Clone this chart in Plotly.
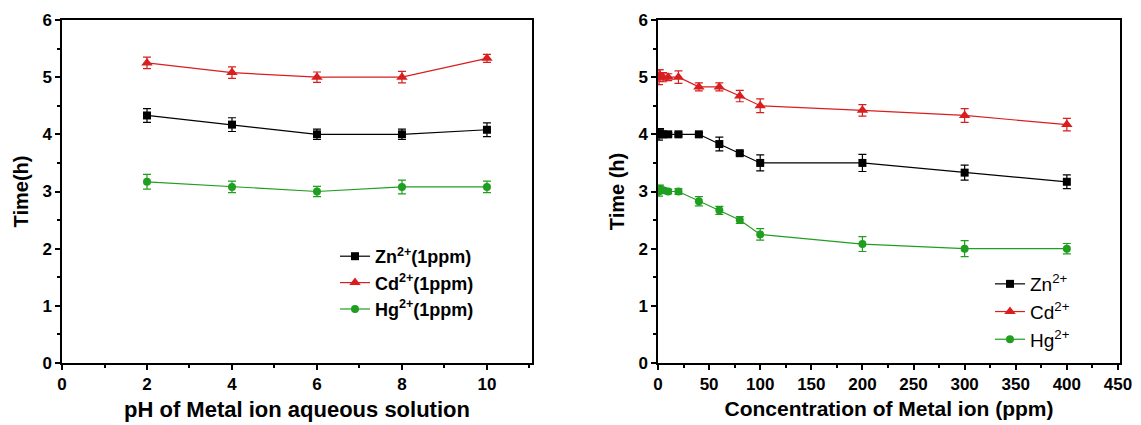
import plotly.graph_objects as go

# ---- Left panel: pH ----
ph = [2, 4, 6, 8, 10]
zn_ph = [4.33, 4.17, 4.0, 4.0, 4.08]
zn_ph_err = [0.12, 0.12, 0.09, 0.09, 0.12]
cd_ph = [5.25, 5.08, 5.0, 5.0, 5.33]
cd_ph_err = [0.1, 0.1, 0.09, 0.1, 0.07]
hg_ph = [3.17, 3.08, 3.0, 3.08, 3.08]
hg_ph_err = [0.13, 0.1, 0.09, 0.12, 0.1]

# ---- Right panel: concentration ----
conc = [1, 2, 5, 10, 20, 40, 60, 80, 100, 200, 300, 400]
zn_c = [4.0, 4.02, 4.0, 4.0, 4.0, 4.0, 3.83, 3.67, 3.5, 3.5, 3.33, 3.17]
zn_c_err = [0.1, 0.08, 0.04, 0.03, 0.03, 0.03, 0.12, 0.03, 0.14, 0.15, 0.13, 0.12]
cd_c = [5.0, 5.03, 5.0, 5.0, 5.0, 4.83, 4.83, 4.67, 4.5, 4.42, 4.33, 4.17]
cd_c_err = [0.13, 0.1, 0.08, 0.06, 0.11, 0.07, 0.07, 0.1, 0.12, 0.1, 0.12, 0.11]
hg_c = [3.0, 3.05, 3.02, 3.0, 3.0, 2.83, 2.67, 2.5, 2.25, 2.08, 2.0, 2.0]
hg_c_err = [0.08, 0.06, 0.05, 0.04, 0.05, 0.08, 0.07, 0.06, 0.1, 0.13, 0.14, 0.09]

BLACK = "#000000"
RED = "#d81e1e"
GREEN = "#1f9e1f"
FONT = "Liberation Sans"

fig = go.Figure()

def add(x, y, e, color, symbol, size, name, xa, ya, legend):
    fig.add_trace(go.Scatter(
        x=x, y=y, mode="lines+markers", name=name,
        line=dict(color=color, width=1.2),
        marker=dict(symbol=symbol, size=size, color=color),
        error_y=dict(type="data", array=e, visible=True, color=color, thickness=1.2, width=4),
        xaxis=xa, yaxis=ya, legend=legend,
    ))

add(ph, zn_ph, zn_ph_err, BLACK, "square", 8, "Zn<sup>2+</sup>(1ppm)", "x", "y", "legend")
add(ph, cd_ph, cd_ph_err, RED, "triangle-up", 10, "Cd<sup>2+</sup>(1ppm)", "x", "y", "legend")
add(ph, hg_ph, hg_ph_err, GREEN, "circle", 8, "Hg<sup>2+</sup>(1ppm)", "x", "y", "legend")

add(conc, zn_c, zn_c_err, BLACK, "square", 8, "Zn<sup>2+</sup>", "x2", "y2", "legend2")
add(conc, cd_c, cd_c_err, RED, "triangle-up", 10, "Cd<sup>2+</sup>", "x2", "y2", "legend2")
add(conc, hg_c, hg_c_err, GREEN, "circle", 8, "Hg<sup>2+</sup>", "x2", "y2", "legend2")

# page body has an 8px margin: figure is sized to fit the 1141x425 window
OFF = 8
W = 1141 - OFF
H = 425 - OFF
TOP, BOT = 20 - OFF, 363 - OFF
PH = BOT - TOP

def px(x):
    return (x - OFF) / W

def py(y):
    return 1 - (y - OFF - TOP) / PH

MINOR = dict(ticks="outside", ticklen=3, tickcolor="black", tickwidth=1.5)
axis_common = dict(
    showline=True, linecolor="black", linewidth=1.5, mirror=True,
    ticks="outside", ticklen=5, tickwidth=1.5, tickcolor="black",
    showgrid=False, zeroline=False, automargin=False,
    tickfont=dict(family=FONT, size=17, color="black", weight="bold"),
)

fig.update_layout(
    width=W, height=H,
    margin=dict(l=0, r=0, t=TOP, b=H - BOT),
    plot_bgcolor="white", paper_bgcolor="white",
    font=dict(family=FONT, color="black"),
    xaxis=dict(domain=[px(62), px(532)], range=[0, 11.06], tickvals=[0, 2, 4, 6, 8, 10],
               minor=dict(tickvals=[1, 3, 5, 7, 9, 11], **MINOR),
               title=dict(text="<b>pH of Metal ion aqueous solution</b>", font=dict(family=FONT, size=22), standoff=8),
               anchor="y", **axis_common),
    yaxis=dict(domain=[0, 1], range=[0, 6], dtick=1,
               minor=dict(dtick=0.5, **MINOR),
               title=dict(text="<b>Time(h)</b>", font=dict(family=FONT, size=20), standoff=8),
               anchor="x", **axis_common),
    xaxis2=dict(domain=[px(658), px(1120)], range=[0, 452], dtick=50,
                minor=dict(dtick=25, **MINOR),
                title=dict(text="<b>Concentration of Metal ion (ppm)</b>", font=dict(family=FONT, size=21), standoff=8),
                anchor="y2", **axis_common),
    yaxis2=dict(domain=[0, 1], range=[0, 6], dtick=1,
                minor=dict(dtick=0.5, **MINOR),
                title=dict(text="<b>Time (h)</b>", font=dict(family=FONT, size=20), standoff=8),
                anchor="x2", **axis_common),
    legend=dict(x=px(335), y=py(238), xanchor="left", yanchor="top", bgcolor="rgba(0,0,0,0)",
                font=dict(family=FONT, size=18, color="black", weight="bold"),
                tracegroupgap=0, itemsizing="trace"),
    legend2=dict(x=px(990), y=py(265), xanchor="left", yanchor="top", bgcolor="rgba(0,0,0,0)",
                 font=dict(family=FONT, size=19, color="black"),
                 tracegroupgap=0, itemsizing="trace"),
)

fig.write_html("out.html")
